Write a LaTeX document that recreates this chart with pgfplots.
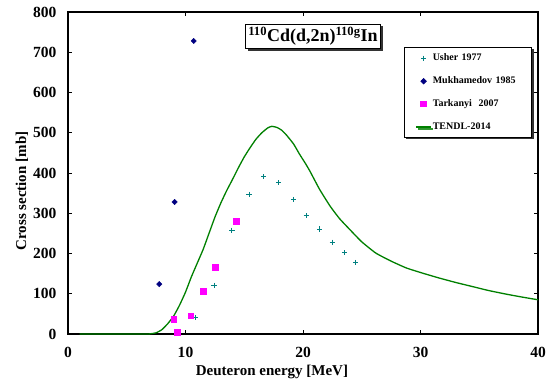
\documentclass[border=0pt]{standalone}
\usepackage{pgfplots}
\pgfplotsset{compat=1.18}
\usepackage{fontspec}
\setmainfont{Liberation Serif}
\usetikzlibrary{shadows}
\definecolor{usher}{RGB}{0,128,128}
\definecolor{mukh}{RGB}{0,0,128}
\definecolor{tark}{RGB}{255,0,255}
\definecolor{tendl}{RGB}{0,128,0}
\begin{document}
\begin{tikzpicture}
\useasboundingbox (-68pt,-49pt) rectangle (488pt,334pt);
\begin{axis}[
  scale only axis, width=470pt, height=322pt,
  at={(0,0)}, anchor=south west,
  xmin=0, xmax=40, ymin=0, ymax=800,
  xtick={0,10,20,30,40}, ytick={0,100,...,800},
  tick align=inside, major tick length=4pt,
  axis line style={line width=1.2pt}, every tick/.style={black, line width=1pt},
  /pgf/number format/assume math mode=true,
  tick label style={font=\bfseries\fontsize{15.5}{17}\selectfont},
  xticklabel style={yshift=-10pt},
  yticklabel style={xshift=-8pt},
  xlabel={Deuteron energy [MeV]},
  ylabel={Cross section [mb]},
  label style={font=\bfseries\fontsize{15}{17}\selectfont},
  xlabel style={at={(axis description cs:0.434,-0.117)}, anchor=center},
  ylabel style={at={(axis description cs:-0.098,0.444)}, anchor=center, rotate=0},
  legend style={at={(axis description cs:0.715,0.891)}, anchor=north west,
    draw=black, line width=0.8pt, fill=white, row sep=10.5pt,
    font=\bfseries\fontsize{10}{12}\selectfont, inner xsep=11pt, inner ysep=4.5pt,
    drop shadow={shadow xshift=2pt, shadow yshift=-2pt, fill=black, opacity=0.8},
    nodes={text width=87pt, inner xsep=1pt}},
  legend cell align=left,
  legend image code/.code={\draw[#1, mark repeat=2, mark phase=2] plot coordinates {(0pt,0pt) (7.5pt,0pt) (15pt,0pt)};},
  clip=false,
]
\addplot[only marks, mark=+, mark size=2.6pt, color=usher, line width=0.9pt] coordinates {
(10.85,41) (12.43,121) (13.95,258) (15.4,347) (16.67,391) (17.94,376)
(19.2,334) (20.28,294) (21.41,261) (22.49,228) (23.53,202) (24.49,178)};
\addlegendentry{Usher 1977}
\addplot[only marks, mark=square*, mark size=1.9pt, mark options={rotate=45}, color=mukh] coordinates {
(7.77,124) (9.07,328) (10.7,728)};
\addlegendentry{Mukhamedov 1985}
\addplot[only marks, mark=square*, mark size=2.8pt, color=tark] coordinates {
(9.0,37) (9.27,5) (10.45,45) (11.53,107) (12.54,166) (14.32,281)};
\addlegendentry{Tarkanyi\ \ 2007}
\addplot[no marks, smooth, tension=0.3, color=tendl, line width=1.3pt,
  legend image code/.code={\draw[tendl, line width=1.3pt] (0pt,0pt) -- (15pt,0pt);}] coordinates {
(1,0) (6.5,0) (7.0,0.5) (7.5,3) (8.0,11) (8.5,26) (9.0,45) (9.5,72) (10,104)
(10.5,142) (11,176) (11.5,210) (12,250) (12.5,290) (13,325) (13.5,356) (14,384)
(14.5,413) (15,440) (15.5,463) (16,484) (16.5,500) (17,512) (17.35,516)
(17.8,513) (18.2,506) (18.6,494) (19.2,472) (19.7,447) (20.2,424) (20.6,404)
(21.4,360) (22.3,318) (23.1,287) (24,259) (25,229) (26.2,201) (27.5,181)
(28.8,164) (30.2,151) (31.6,139) (33,128) (34.4,118) (35.8,108) (37.3,99)
(38.6,92) (40,85)};
\addlegendentry{TENDL-2014}
\node[draw, line width=0.8pt, fill=white, inner sep=3pt,
  drop shadow={shadow xshift=2.5pt, shadow yshift=-2.5pt, fill=black, opacity=0.8},
  font=\bfseries\fontsize{18}{20}\selectfont]
  at (axis cs:20.85,740) {\textsuperscript{110}Cd(d,2n)\textsuperscript{110g}In};
\end{axis}
\end{tikzpicture}
\end{document}
